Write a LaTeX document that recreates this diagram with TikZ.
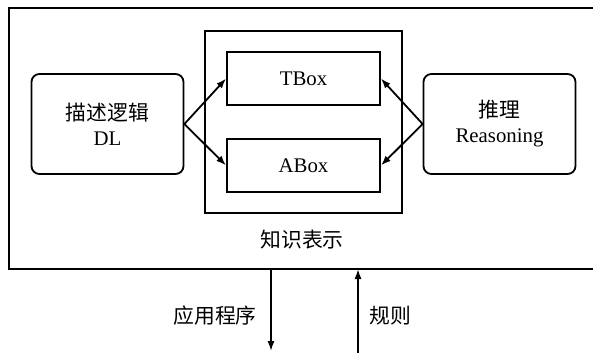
\documentclass[tikz,border=0pt]{standalone}
\usepackage{fontspec}
\setmainfont{Liberation Serif}
\newfontfamily\cjk{Noto Sans CJK SC}
\usetikzlibrary{arrows.meta}

\begin{document}
\begin{tikzpicture}[
			x = 0.5pt, y = -0.5pt,
			line width = 0.9pt,
			every node/.style = {font = \fontsize{10.4}{12.5}\selectfont, inner sep = 0pt},
			module/.style = {rectangle, draw, rounded corners = 4pt, minimum width = 76pt, minimum height = 50pt, align = center},
			store/.style = {rectangle, draw, minimum width = 76.5pt, minimum height = 26.5pt},
			frame/.style = {rectangle, draw, minimum width = 98.5pt, minimum height = 91pt},
			flow/.style = {-{Latex[length = 5pt, width = 3.6pt]}}
		]
		\useasboundingbox (0, 0) rectangle (593, 355);

		% system border, open on the right
		\coordinate (ne) at (593, 8);
		\coordinate (nw) at (9, 8);
		\coordinate (sw) at (9, 269);
		\coordinate (se) at (593, 269);
		\draw (ne) -- (nw) -- (sw) -- (se);

		% knowledge base
		\node[frame] (kb) at (303.5, 122) {};
		\node[store] (tbox) at (303.5, 78.5) {TBox};
		\node[store] (abox) at (303.5, 165.5) {ABox};
		\node (kblabel) at (302, 240) {\cjk 知识表示};

		% description logic and reasoning
		\node[module] (dl) at (107.5, 124) {{\cjk 描述逻辑}\\DL};
		\node[module] (reason) at (499.5, 124) {{\cjk 推理}\\Reasoning};

		\draw[flow] (dl.east) -- (tbox.west);
		\draw[flow] (dl.east) -- (abox.west);
		\draw[flow] (reason.west) -- (tbox.east);
		\draw[flow] (reason.west) -- (abox.east);

		% interfaces below
		\coordinate (appout) at (271, 269);
		\coordinate (append) at (271, 351);
		\coordinate (rulestart) at (358, 353);
		\coordinate (rulein) at (358, 269);
		\draw[flow] (appout) -- (append);
		\draw[flow] (rulestart) -- (rulein);
		\node (applabel) at (215, 316) {\cjk 应用程序};
		\node (rulelabel) at (390, 316) {\cjk 规则};
	\end{tikzpicture}
\end{document}
